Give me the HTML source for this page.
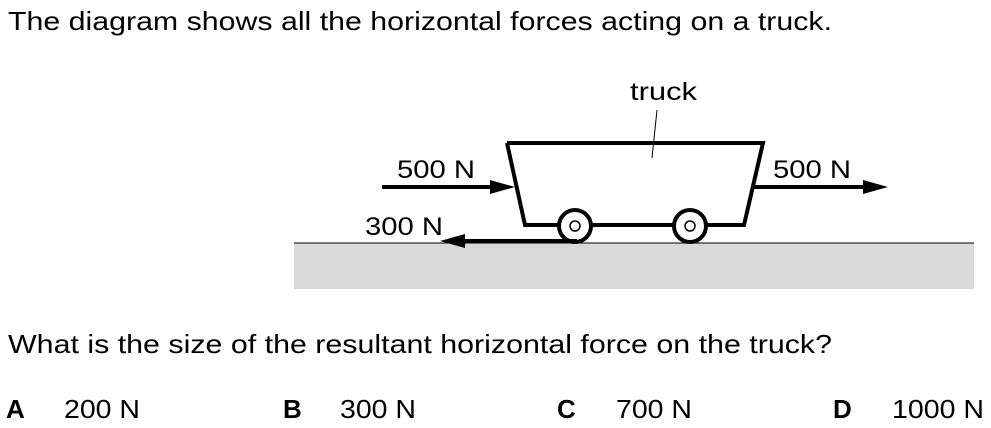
<!DOCTYPE html>
<html><head><style>body{margin:0;background:#fff}svg{display:block}</style></head>
<body>
<svg width="991" height="428" xmlns="http://www.w3.org/2000/svg" font-family="Liberation Sans, Arial, sans-serif" font-size="26" fill="#000">
<text x="8" y="30" textLength="824" lengthAdjust="spacingAndGlyphs">The diagram shows all the horizontal forces acting on a truck.</text>
<text x="630" y="100" font-size="25" textLength="67" lengthAdjust="spacingAndGlyphs">truck</text>
<line x1="652" y1="158" x2="657" y2="110" stroke="#000" stroke-width="1"/>
<rect x="294" y="243" width="680" height="46" fill="#d9d9d9"/>
<line x1="294" y1="243" x2="974" y2="243" stroke="#000" stroke-width="1"/>
<polyline points="507,143 763,143 744,225 525,225 507,143" fill="none" stroke="#000" stroke-width="4" stroke-linejoin="miter"/>
<circle cx="575" cy="226" r="16" fill="#fff" stroke="#000" stroke-width="4"/>
<circle cx="575" cy="226" r="5" fill="#fff" stroke="#000" stroke-width="1.5"/>
<circle cx="690" cy="226" r="16" fill="#fff" stroke="#000" stroke-width="4"/>
<circle cx="690" cy="226" r="5" fill="#fff" stroke="#000" stroke-width="1.5"/>
<line x1="382" y1="187" x2="495" y2="187" stroke="#000" stroke-width="4"/>
<polygon points="490,180 515,187 490,194" fill="#000"/>
<line x1="754" y1="187" x2="868" y2="187" stroke="#000" stroke-width="4"/>
<polygon points="863,180 888,187 863,194" fill="#000"/>
<line x1="460" y1="241" x2="577" y2="241" stroke="#000" stroke-width="4"/>
<polygon points="465,234 440,241 465,248" fill="#000"/>
<text x="397" y="178" font-size="25" textLength="78" lengthAdjust="spacingAndGlyphs">500 N</text>
<text x="773" y="178" font-size="25" textLength="78" lengthAdjust="spacingAndGlyphs">500 N</text>
<text x="365" y="235" font-size="25" textLength="78" lengthAdjust="spacingAndGlyphs">300 N</text>
<text x="8" y="353" textLength="824" lengthAdjust="spacingAndGlyphs">What is the size of the resultant horizontal force on the truck?</text>
<g font-size="26">
<text x="6" y="418" font-weight="bold">A</text>
<text x="64" y="418" textLength="76" lengthAdjust="spacingAndGlyphs">200 N</text>
<text x="283" y="418" font-weight="bold">B</text>
<text x="340" y="418" textLength="76" lengthAdjust="spacingAndGlyphs">300 N</text>
<text x="557" y="418" font-weight="bold">C</text>
<text x="616" y="418" textLength="76" lengthAdjust="spacingAndGlyphs">700 N</text>
<text x="833" y="418" font-weight="bold">D</text>
<text x="892" y="418" textLength="92" lengthAdjust="spacingAndGlyphs">1000 N</text>
</g>
</svg>
</body></html>
